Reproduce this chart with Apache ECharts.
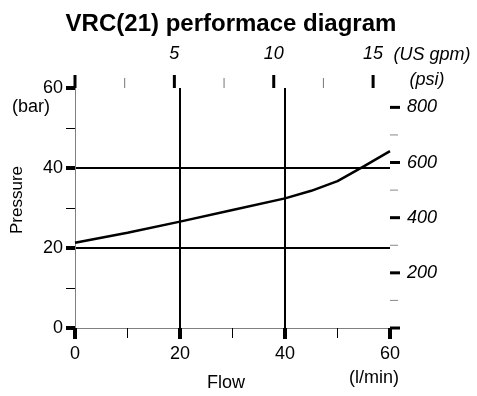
<!DOCTYPE html>
<html><head><meta charset="utf-8">
<script src="https://cdn.jsdelivr.net/npm/echarts@6/dist/echarts.min.js"></script>
<style>html,body{margin:0;padding:0;background:#fff}#c{width:477px;height:396px}</style>
</head><body><div id="c"></div>
<script>
// Data
const flow = [0, 10, 20, 30, 40, 45, 50, 55, 60];           // l/min
const pressure = [21.3, 23.8, 26.6, 29.5, 32.4, 34.3, 36.7, 40.4, 44.2]; // bar
const flowMin = 0, flowMax = 60, flowStep = 20;
const barMin = 0, barMax = 60, barStep = 20;
const gpmTicks = [0, 5, 10, 15];
const gpmLabels = [5, 10, 15];
const gpmMinor = [2.5, 7.5, 12.5];
const psiTicks = [0, 200, 400, 600, 800];
const psiLabels = [200, 400, 600, 800];
const psiMinor = [100, 300, 500, 700];
const LPM_PER_GPM = 3.78541;
const PSI_PER_BAR = 14.5038;
const titleText = 'VRC(21) performace diagram';

const FONT = 'Liberation Sans';
const chart = echarts.init(document.getElementById('c'), null, {renderer: 'canvas'});
const grid = {left: 75, right: 87, top: 88, bottom: 68};
const gpmMax = flowMax / LPM_PER_GPM;
const psiMax = barMax * PSI_PER_BAR;

const txt = (text, x, y, opts, extra) => Object.assign({
  type: 'text', x, y,
  style: Object.assign({text, fill: '#000', fontFamily: FONT, fontSize: 18, align: 'center', verticalAlign: 'middle'}, opts || {})
}, extra || {});

chart.setOption({
  animation: false,
  title: {
    text: titleText, left: 226, top: 7, textAlign: 'center',
    textStyle: {fontFamily: FONT, fontSize: 24, fontWeight: 'bold', color: '#000'}
  },
  grid: grid,
  xAxis: [
    {
      type: 'value', position: 'bottom', min: flowMin, max: flowMax, interval: flowStep,
      axisLine: {show: true, lineStyle: {color: '#808080', width: 1}},
      axisTick: {show: true, length: 11, lineStyle: {color: '#000', width: 4}},
      minorTick: {show: true, splitNumber: 2, length: 10, lineStyle: {color: '#000', width: 1}},
      splitLine: {show: true, showMinLine: false, showMaxLine: false, lineStyle: {color: '#000', width: 2}},
      axisLabel: {color: '#000', fontFamily: FONT, fontSize: 18, margin: 17}
    },
    {
      type: 'value', position: 'top', min: 0, max: gpmMax,
      axisLine: {show: true, lineStyle: {color: '#808080', width: 1}},
      axisTick: {show: false},
      splitLine: {show: false},
      axisLabel: {show: true, customValues: gpmLabels, color: '#000', fontFamily: FONT, fontSize: 18, fontStyle: 'italic', margin: 25}
    }
  ],
  yAxis: [
    {
      type: 'value', position: 'left', min: barMin, max: barMax, interval: barStep,
      axisLine: {show: true, lineStyle: {color: '#000', width: 1}},
      axisTick: {show: true, length: 9, lineStyle: {color: '#000', width: 4}},
      minorTick: {show: true, splitNumber: 2, length: 9, lineStyle: {color: '#000', width: 1}},
      splitLine: {show: true, showMinLine: false, showMaxLine: false, lineStyle: {color: '#000', width: 2}},
      axisLabel: {color: '#000', fontFamily: FONT, fontSize: 18, margin: 12}
    },
    {
      type: 'value', position: 'right', min: 0, max: psiMax,
      axisLine: {show: true, lineStyle: {color: '#808080', width: 1}},
      axisTick: {show: false},
      splitLine: {show: false},
      axisLabel: {show: true, customValues: psiLabels, color: '#000', fontFamily: FONT, fontSize: 18, fontStyle: 'italic', margin: 17}
    }
  ],
  series: [
    {
      type: 'line', xAxisIndex: 0, yAxisIndex: 0,
      data: flow.map((f, i) => [f, pressure[i]]),
      symbol: 'none', smooth: false,
      lineStyle: {color: '#000', width: 2.5}, z: 5
    },
    {
      // US gpm ticks on the top axis
      type: 'custom', xAxisIndex: 1, yAxisIndex: 0, silent: true, clip: false, z: 6,
      data: gpmTicks.map(v => [v, barMax, 1]).concat(gpmMinor.map(v => [v, barMax, 0])),
      renderItem: (params, api) => {
        const p = api.coord([api.value(0), api.value(1)]);
        const major = api.value(2) === 1;
        return {type: 'line', shape: {x1: p[0], y1: p[1], x2: p[0], y2: p[1] - (major ? 13 : 10)},
          style: {stroke: major ? '#000' : '#777', lineWidth: major ? 3 : 1}};
      }
    },
    {
      // psi ticks on the right axis
      type: 'custom', xAxisIndex: 0, yAxisIndex: 1, silent: true, clip: false, z: 6,
      data: psiTicks.map(v => [flowMax, v, 1]).concat(psiMinor.map(v => [flowMax, v, 0])),
      renderItem: (params, api) => {
        const p = api.coord([api.value(0), api.value(1)]);
        const major = api.value(2) === 1;
        return {type: 'line', shape: {x1: p[0], y1: p[1], x2: p[0] + (major ? 10 : 8), y2: p[1]},
          style: {stroke: major ? '#000' : '#888', lineWidth: major ? 3 : 1}};
      }
    }
  ],
  graphic: [
    txt('(bar)', 31, 107),
    txt('Pressure', 17, 200, {fontSize: 17}, {rotation: Math.PI / 2}),
    txt('Flow', 226, 383),
    txt('(l/min)', 374, 378),
    txt('(psi)', 427, 80, {fontStyle: 'italic'}),
    txt('(US gpm)', 432, 55, {fontStyle: 'italic'})
  ]
});
</script></body></html>
